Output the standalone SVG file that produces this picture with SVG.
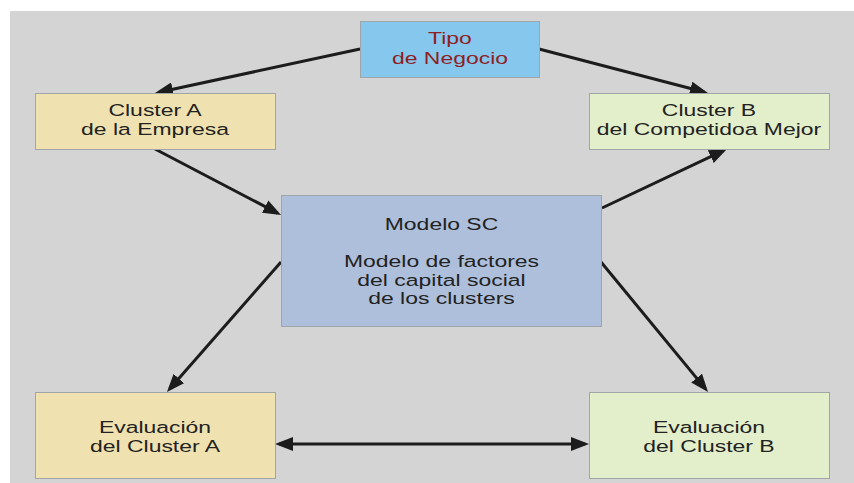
<svg xmlns="http://www.w3.org/2000/svg" width="854" height="483" viewBox="0 0 854 483">
<defs>
<style>
.box{stroke:#a0a6a8;stroke-width:1}
.t{font-family:"Liberation Sans",Arial,sans-serif;font-size:17px;fill:#222;text-anchor:middle}
.red{fill:#8e1f22}
.c{fill:none;stroke:#1c1c1c;stroke-width:3}
</style>
<marker id="ah" viewBox="0 0 18 14" markerWidth="18" markerHeight="14" markerUnits="userSpaceOnUse" refX="14" refY="7" orient="auto-start-reverse">
<path d="M0,0 L18,7 L0,14 z" fill="#1c1c1c"/>
</marker>
</defs>
<rect x="0" y="0" width="854" height="483" fill="#ffffff"/>
<rect x="10" y="11" width="844" height="472" fill="#d4d4d4"/>

<g id="connectors">
<path class="c" d="M360,49 L158.9,92.2" marker-end="url(#ah)"/>
<path class="c" d="M539,49 L704.1,92" marker-end="url(#ah)"/>
<path class="c" d="M155,149 L277.5,213.1" marker-end="url(#ah)"/>
<path class="c" d="M602,208 L723.4,150.7" marker-end="url(#ah)"/>
<path class="c" d="M281,262 L169.6,389" marker-end="url(#ah)"/>
<path class="c" d="M601,262 L705.5,388.9" marker-end="url(#ah)"/>
<path class="c" d="M279,444 L585,444" marker-start="url(#ah)" marker-end="url(#ah)"/>
</g>

<g id="tipo">
<rect class="box" x="360.5" y="21.5" width="179" height="56" fill="#86c7ee" stroke="#7fa3c4"/>
<text class="t red" transform="translate(450,44.3) scale(1.35,1)">Tipo</text>
<text class="t red" transform="translate(450,64.3) scale(1.35,1)">de Negocio</text>
</g>

<g id="clusterA">
<rect class="box" x="35.5" y="93.5" width="240" height="56" fill="#f0e2b0"/>
<text class="t" transform="translate(155,116.3) scale(1.35,1)">Cluster A</text>
<text class="t" transform="translate(155,135) scale(1.35,1)">de la Empresa</text>
</g>

<g id="clusterB">
<rect class="box" x="589.5" y="93.5" width="240" height="56" fill="#e3eecb"/>
<text class="t" transform="translate(709,116.3) scale(1.35,1)">Cluster B</text>
<text class="t" transform="translate(709,135) scale(1.35,1)">del Competidoa Mejor</text>
</g>

<g id="modelo">
<rect class="box" x="281.5" y="195.5" width="320" height="131" fill="#aebfdb"/>
<text class="t" transform="translate(441.5,230) scale(1.35,1)">Modelo SC</text>
<text class="t" transform="translate(441.5,267.3) scale(1.35,1)">Modelo de factores</text>
<text class="t" transform="translate(441.5,286) scale(1.35,1)">del capital social</text>
<text class="t" transform="translate(441.5,304.3) scale(1.35,1)">de los clusters</text>
</g>

<g id="evalA">
<rect class="box" x="35.5" y="392.5" width="240" height="86" fill="#f0e2b0"/>
<text class="t" transform="translate(155,433.3) scale(1.35,1)">Evaluación</text>
<text class="t" transform="translate(155,451.7) scale(1.35,1)">del Cluster A</text>
</g>

<g id="evalB">
<rect class="box" x="589.5" y="392.5" width="240" height="86" fill="#e3eecb"/>
<text class="t" transform="translate(709,433.3) scale(1.35,1)">Evaluación</text>
<text class="t" transform="translate(709,451.7) scale(1.35,1)">del Cluster B</text>
</g>
</svg>
